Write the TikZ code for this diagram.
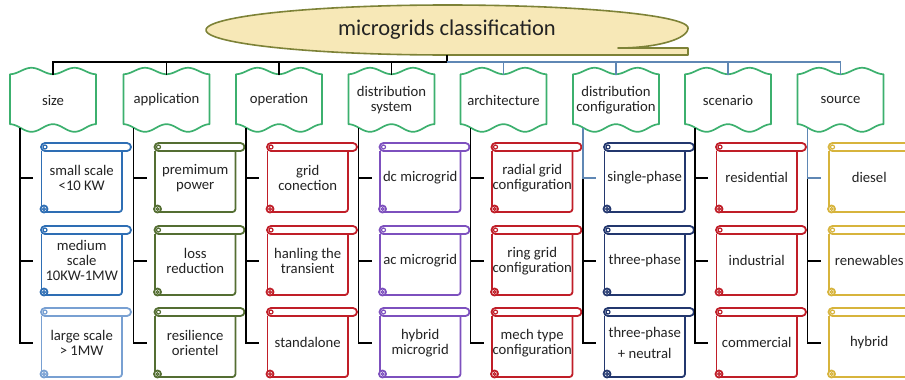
\documentclass[tikz,border=0pt]{standalone}
\usepackage{fontspec}
\setmainfont{Carlito}
\usetikzlibrary{calc}
\definecolor{catgreen}{RGB}{60,176,110}
\definecolor{ttlfill}{RGB}{247,232,183}
\definecolor{ttldraw}{RGB}{125,130,55}
\definecolor{linkblue}{RGB}{95,135,180}
\definecolor{cblue}{RGB}{46,110,180}
\definecolor{clblue}{RGB}{120,160,210}
\definecolor{colive}{RGB}{84,110,50}
\definecolor{cred}{RGB}{192,30,40}
\definecolor{cpurple}{RGB}{125,80,190}
\definecolor{cnavy}{RGB}{35,55,110}
\definecolor{cgold}{RGB}{215,180,60}
\definecolor{txt}{RGB}{35,35,35}
\tikzset{
  tree/.style={line width=1.9pt, draw=black},
  treeblue/.style={line width=1.6pt, draw=linkblue},
  catshape/.style={draw=catgreen, line width=1.7pt, fill=white, line join=round},
  cattext/.style={minimum width=86pt, minimum height=50pt, inner sep=0pt, align=center,
    font=\fontsize{14.7}{15.5}\selectfont, text=txt},
  itemtext/.style={minimum width=81pt, minimum height=69pt, inner sep=0pt, align=center,
    font=\fontsize{14.7}{15}\selectfont, text=txt},
  scrl/.style={line width=1.8pt, line join=round},
}
% category box: name, center x, text
\newcommand{\catbox}[3]{%
  \begin{scope}[shift={(#2,0)}]
    \draw[catshape] plot[domain=-43:43, samples=60] (\x,{71+3.2*cos(360*\x/43)})
      -- plot[domain=43:-43, samples=60] (\x,{128-3.8*cos(360*\x/43)}) -- cycle;
  \end{scope}
  \node[cattext] (#1) at (#2,100) {#3};
}
% scroll item: name, colour, left x, top y, text
\newcommand{\itembox}[5]{%
  \begin{scope}[shift={(#3,#4)}]
    \fill[white] (0,8) rectangle (81,69);
    \draw[scrl,draw=#2] (0.5,8) -- (0.5,64);
    \draw[scrl,draw=#2,rounded corners=3pt] (4,69) -- (81,69) -- (81,6);
    \draw[scrl,draw=#2,fill=white] (3,66) circle (3.5pt);
    \draw[draw=#2,line width=1.2pt] (3,66) circle (1.4pt);
    \draw[scrl,draw=#2,fill=white,rounded corners=4pt] (0,0) rectangle (90,8);
    \draw[draw=#2,line width=1.2pt] (4,4) circle (2pt);
  \end{scope}
  \node[itemtext, anchor=north west] (#1) at (#3,#4) {#5};
}
% column connectors: vertical-line coordinate name, x, three item names
\newcommand{\colconn}[5]{%
  \coordinate (#1) at (#2,128);
  \draw[tree] (#1) |- ($(#5.west)+(-8,0)$);
  \draw[tree] (#1 |- #3.west) -- ($(#3.west)+(-8,0)$);
  \draw[tree] (#1 |- #4.west) -- ($(#4.west)+(-8,0)$);
}
\begin{document}
\begin{tikzpicture}[x=1pt,y=-1pt]
\useasboundingbox (0,0) rectangle (905,380);
% title shape
\draw[fill=ttlfill, draw=ttldraw, line width=1.6pt, line join=round]
  plot[domain=90:270, samples=80] ({447+241*cos(\x)},{30-25*sin(\x)})
  -- (688,55) -- (688,48) -- (618,48)
  -- plot[domain=270:360, samples=40] ({618+70*cos(\x)},{28-20*sin(\x)})
  -- plot[domain=0:90, samples=60] ({447+241*cos(\x)},{28-23*sin(\x)}) -- cycle;
\node[font=\fontsize{22.5}{27}\selectfont, text=txt] (title) at (447,30) {microgrids classification};
\coordinate (tb) at (447,55);
\coordinate (bus) at (447,62);

% categories
\catbox{c1}{53}{size}
\catbox{c2}{166.5}{application}
\catbox{c3}{279}{operation}
\catbox{c4}{391.5}{distribution\\system}
\catbox{c5}{503.5}{architecture}
\catbox{c6}{616}{distribution\\configuration}
\catbox{c7}{728}{scenario}
\catbox{c8}{840.5}{source}

% bus
\draw[tree] (tb) -- (bus);
\draw[tree] (bus) -- (bus -| c1.north) -- (c1.north);
\draw[tree] (bus -| c2.north) -- (c2.north);
\draw[tree] (bus -| c3.north) -- (c3.north);
\draw[tree] (bus -| c4.north) -- (c4.north);
\draw[treeblue] (bus) -- (bus -| c8.north) -- (c8.north);
\draw[treeblue] (bus -| c5.north) -- (c5.north);
\draw[treeblue] (bus -| c6.north) -- (c6.north);
\draw[treeblue] (bus -| c7.north) -- (c7.north);

% items
\itembox{a1}{cblue}{41}{143}{small scale\\<10 KW}
\itembox{a2}{cblue}{41}{226}{medium\\scale\\10KW-1MW}
\itembox{a3}{clblue}{41}{308}{large scale\\> 1MW}

\itembox{b1}{colive}{154.5}{143}{premimum\\power}
\itembox{b2}{colive}{154.5}{226}{loss\\reduction}
\itembox{b3}{colive}{154.5}{308}{resilience\\orientel}

\itembox{d1}{cred}{267}{143}{grid\\conection}
\itembox{d2}{cred}{267}{226}{hanling the\\transient}
\itembox{d3}{cred}{267}{308}{standalone}

\itembox{e1}{cpurple}{379.5}{143}{dc microgrid}
\itembox{e2}{cpurple}{379.5}{226}{ac microgrid}
\itembox{e3}{cpurple}{379.5}{308}{hybrid\\microgrid}

\itembox{f1}{cred}{491.5}{143}{radial grid\\configuration}
\itembox{f2}{cred}{491.5}{226}{ring grid\\configuration}
\itembox{f3}{cred}{491.5}{308}{mech type\\configuration}

\itembox{g1}{cnavy}{604}{143}{single-phase}
\itembox{g2}{cnavy}{604}{226}{three-phase}
\itembox{g3}{cnavy}{604}{308}{three-phase\\[6pt]+ neutral}

\itembox{h1}{cred}{716}{143}{residential}
\itembox{h2}{cred}{716}{226}{industrial}
\itembox{h3}{cred}{716}{308}{commercial}

\itembox{k1}{cgold}{828.5}{143}{diesel}
\itembox{k2}{cgold}{828.5}{226}{renewables}
\itembox{k3}{cgold}{828.5}{308}{hybrid}

% column connectors
\colconn{v1}{20}{a1}{a2}{a3}
\colconn{v2}{133.5}{b1}{b2}{b3}
\colconn{v3}{246}{d1}{d2}{d3}
\colconn{v4}{358.5}{e1}{e2}{e3}
\colconn{v5}{470.5}{f1}{f2}{f3}
\colconn{v6}{583}{g1}{g2}{g3}
\colconn{v7}{695}{h1}{h2}{h3}
\colconn{v8}{807.5}{k1}{k2}{k3}
% blue upper parts (as in the reference)
\draw[treeblue] (v6) -- (v6 |- g1.west) -- ($(g1.west)+(-8,0)$);
\draw[treeblue] (v8) -- (v8 |- k1.west) -- ($(k1.west)+(-8,0)$);
\end{tikzpicture}
\end{document}
